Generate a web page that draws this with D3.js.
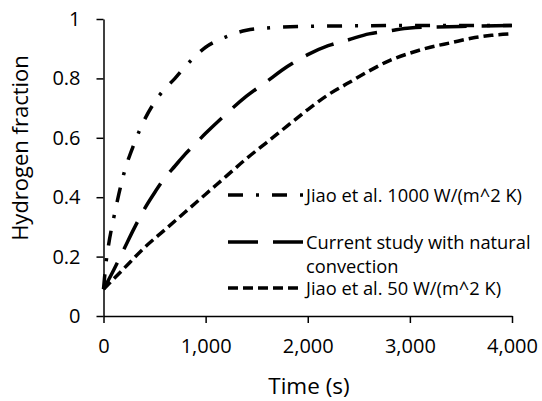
<!DOCTYPE html>
<html>
<head>
<meta charset="utf-8">
<script src="https://cdn.jsdelivr.net/npm/d3@7"></script>
<style>
  body { margin: 0; background: #fff; }
  text { font-family: "Open Sans", sans-serif; fill: #000; }
  .axis path, .axis line { stroke: #000; stroke-width: 1.5; }
  .axis text { font-size: 20px; }
</style>
</head>
<body>
<svg id="plot"></svg>
<script>
// Series (time in s, hydrogen fraction)
const timeJiao1000 = [0, 25, 50, 100, 150, 200, 300, 400, 500, 600, 700, 800, 900, 1000, 1100, 1200, 1300, 1400, 1600, 2000, 3000, 4000];
const fracJiao1000 = [0.09, 0.18, 0.24, 0.33, 0.41, 0.48, 0.58, 0.66, 0.72, 0.765, 0.80, 0.84, 0.875, 0.905, 0.925, 0.94, 0.953, 0.962, 0.97, 0.975, 0.978, 0.978];

const timeCurrent = [0, 100, 200, 300, 400, 500, 600, 700, 800, 900, 1000, 1200, 1400, 1600, 1800, 2000, 2200, 2400, 2600, 2800, 3000, 3500, 4000];
const fracCurrent = [0.09, 0.155, 0.225, 0.295, 0.36, 0.415, 0.465, 0.505, 0.545, 0.58, 0.615, 0.68, 0.74, 0.79, 0.84, 0.88, 0.91, 0.93, 0.95, 0.96, 0.97, 0.975, 0.978];

const timeJiao50 = [0, 200, 400, 600, 800, 1000, 1200, 1400, 1600, 1800, 2000, 2200, 2400, 2600, 2800, 3000, 3200, 3400, 3600, 3800, 4000];
const fracJiao50 = [0.09, 0.16, 0.23, 0.29, 0.35, 0.41, 0.47, 0.53, 0.585, 0.64, 0.695, 0.745, 0.785, 0.825, 0.86, 0.885, 0.905, 0.92, 0.935, 0.945, 0.95];

const legendLabels = [
  ["Jiao et al. 1000 W/(m^2 K)"],
  ["Current study with natural", "convection"],
  ["Jiao et al. 50 W/(m^2 K)"]
];
const xTicks = [0, 1000, 2000, 3000, 4000];
const yTicks = [0, 0.2, 0.4, 0.6, 0.8, 1];

const W = 542, H = 401;
const margin = { top: 19, right: 30, bottom: 85, left: 103.5 };
const width = W - margin.left - margin.right;
const height = H - margin.top - margin.bottom;

const svg = d3.select("#plot").attr("width", W).attr("height", H);
const g = svg.append("g").attr("transform", `translate(${margin.left},${margin.top})`);

const x = d3.scaleLinear().domain([0, 4000]).range([0, width]);
const y = d3.scaleLinear().domain([0, 1]).range([height, 0]);

// Axes
g.append("g")
  .attr("class", "axis")
  .attr("transform", `translate(0,${height})`)
  .call(d3.axisBottom(x).tickValues(xTicks).tickFormat(d3.format(",")).tickSize(7).tickSizeOuter(0).tickPadding(16));

g.append("g")
  .attr("class", "axis")
  .call(d3.axisLeft(y).tickValues(yTicks).tickFormat(d3.format("")).tickSize(7).tickSizeOuter(0).tickPadding(16));

// Axis titles
svg.append("text")
  .attr("x", 309)
  .attr("y", 394)
  .attr("text-anchor", "middle")
  .style("font-size", "22.5px")
  .text("Time (s)");

svg.append("text")
  .attr("transform", "rotate(-90)")
  .attr("x", -148)
  .attr("y", 28)
  .attr("text-anchor", "middle")
  .style("font-size", "22px")
  .text("Hydrogen fraction");

// Lines
const series = [
  { t: timeJiao1000, f: fracJiao1000, dash: "15,13,3,13" },
  { t: timeCurrent, f: fracCurrent, dash: "30,15" },
  { t: timeJiao50, f: fracJiao50, dash: "10,5" }
];

const line = d3.line()
  .x((d) => x(d[0]))
  .y((d) => y(d[1]))
  .curve(d3.curveMonotoneX);

g.selectAll(".series")
  .data(series)
  .enter()
  .append("path")
  .attr("class", "series")
  .attr("fill", "none")
  .attr("stroke", "#000")
  .attr("stroke-width", 3.5)
  .attr("stroke-dasharray", (d) => d.dash)
  .attr("d", (d) => line(d.t.map((t, i) => [t, d.f[i]])));

// Legend
const legendY = [195, 242, 288];
const legend = svg.append("g");

series.forEach((s, i) => {
  legend.append("line")
    .attr("x1", 228)
    .attr("x2", 303)
    .attr("y1", legendY[i])
    .attr("y2", legendY[i])
    .attr("stroke", "#000")
    .attr("stroke-width", 3.5)
    .attr("stroke-dasharray", s.dash);

  legendLabels[i].forEach((txt, j) => {
    legend.append("text")
      .attr("x", 306)
      .attr("y", legendY[i] + 7 + j * 24)
      .style("font-size", "18.3px")
      .text(txt);
  });
});
</script>
</body>
</html>
